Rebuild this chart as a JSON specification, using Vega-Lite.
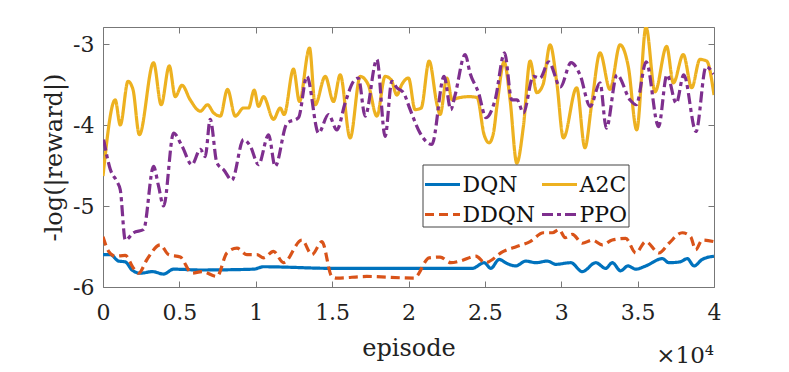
{
  "$schema": "https://vega.github.io/schema/vega-lite/v6.json",
  "width": 611,
  "height": 260,
  "autosize": {"type": "none"},
  "padding": {"left": 103, "top": 27, "right": 75, "bottom": 85},
  "background": "white",
  "config": {
    "view": {"stroke": "#777", "strokeWidth": 1},
    "font": "DejaVu Serif",
    "axis": {"grid": false, "domain": false, "tickColor": "#777", "tickWidth": 1, "tickSize": -6,
             "labelFont": "DejaVu Serif", "labelFontSize": 22, "labelColor": "#222",
             "titleFont": "DejaVu Serif", "titleFontSize": 24, "titleFontWeight": "normal", "titleColor": "#222"}
  },
  "title": {"text": "×10⁴", "orient": "bottom", "anchor": "end", "frame": "group", "font": "DejaVu Serif", "fontSize": 23, "fontWeight": "normal", "color": "#222", "offset": -15},
  "data": {"values": [
    {"a":"A2C","x":0,"y":-4.63},{"a":"A2C","x":0.080,"y":-3.69},{"a":"A2C","x":0.113,"y":-4.00},{"a":"A2C","x":0.164,"y":-3.46},{"a":"A2C","x":0.196,"y":-3.56},{"a":"A2C","x":0.238,"y":-4.12},{"a":"A2C","x":0.331,"y":-3.23},{"a":"A2C","x":0.381,"y":-3.75},{"a":"A2C","x":0.434,"y":-3.27},{"a":"A2C","x":0.473,"y":-3.65},{"a":"A2C","x":0.517,"y":-3.51},{"a":"A2C","x":0.571,"y":-3.69},{"a":"A2C","x":0.637,"y":-3.83},{"a":"A2C","x":0.684,"y":-3.75},{"a":"A2C","x":0.724,"y":-3.85},{"a":"A2C","x":0.768,"y":-3.89},{"a":"A2C","x":0.815,"y":-3.56},{"a":"A2C","x":0.866,"y":-3.89},{"a":"A2C","x":0.920,"y":-3.79},{"a":"A2C","x":0.953,"y":-3.79},{"a":"A2C","x":0.990,"y":-3.57},{"a":"A2C","x":1.018,"y":-3.77},{"a":"A2C","x":1.051,"y":-3.65},{"a":"A2C","x":1.116,"y":-3.93},{"a":"A2C","x":1.160,"y":-3.79},{"a":"A2C","x":1.186,"y":-3.87},{"a":"A2C","x":1.247,"y":-3.31},{"a":"A2C","x":1.286,"y":-3.71},{"a":"A2C","x":1.352,"y":-3.05},{"a":"A2C","x":1.389,"y":-3.75},{"a":"A2C","x":1.455,"y":-3.40},{"a":"A2C","x":1.509,"y":-3.71},{"a":"A2C","x":1.553,"y":-3.38},{"a":"A2C","x":1.618,"y":-4.16},{"a":"A2C","x":1.684,"y":-3.40},{"a":"A2C","x":1.736,"y":-3.50},{"a":"A2C","x":1.793,"y":-3.89},{"a":"A2C","x":1.847,"y":-3.40},{"a":"A2C","x":1.886,"y":-3.44},{"a":"A2C","x":1.924,"y":-3.63},{"a":"A2C","x":1.956,"y":-3.50},{"a":"A2C","x":2.000,"y":-3.42},{"a":"A2C","x":2.043,"y":-3.81},{"a":"A2C","x":2.083,"y":-3.79},{"a":"A2C","x":2.135,"y":-3.21},{"a":"A2C","x":2.187,"y":-3.75},{"a":"A2C","x":2.207,"y":-3.87},{"a":"A2C","x":2.251,"y":-3.42},{"a":"A2C","x":2.286,"y":-3.69},{"a":"A2C","x":2.316,"y":-3.67},{"a":"A2C","x":2.397,"y":-3.65},{"a":"A2C","x":2.449,"y":-3.66},{"a":"A2C","x":2.495,"y":-4.12},{"a":"A2C","x":2.528,"y":-4.22},{"a":"A2C","x":2.556,"y":-4.10},{"a":"A2C","x":2.580,"y":-3.75},{"a":"A2C","x":2.626,"y":-3.22},{"a":"A2C","x":2.665,"y":-3.69},{"a":"A2C","x":2.709,"y":-4.47},{"a":"A2C","x":2.752,"y":-4.02},{"a":"A2C","x":2.796,"y":-3.21},{"a":"A2C","x":2.840,"y":-3.60},{"a":"A2C","x":2.881,"y":-3.50},{"a":"A2C","x":2.927,"y":-3.01},{"a":"A2C","x":2.971,"y":-3.48},{"a":"A2C","x":3.014,"y":-4.16},{"a":"A2C","x":3.101,"y":-3.54},{"a":"A2C","x":3.155,"y":-4.28},{"a":"A2C","x":3.200,"y":-3.73},{"a":"A2C","x":3.254,"y":-3.11},{"a":"A2C","x":3.319,"y":-3.56},{"a":"A2C","x":3.385,"y":-3.01},{"a":"A2C","x":3.439,"y":-3.28},{"a":"A2C","x":3.494,"y":-4.06},{"a":"A2C","x":3.555,"y":-2.79},{"a":"A2C","x":3.614,"y":-3.59},{"a":"A2C","x":3.690,"y":-3.03},{"a":"A2C","x":3.734,"y":-3.48},{"a":"A2C","x":3.799,"y":-3.13},{"a":"A2C","x":3.854,"y":-3.54},{"a":"A2C","x":3.908,"y":-3.19},{"a":"A2C","x":3.952,"y":-3.21},{"a":"A2C","x":4.0,"y":-3.63},

    {"a":"PPO","x":0.004,"y":-4.18},{"a":"PPO","x":0.048,"y":-4.55},{"a":"PPO","x":0.092,"y":-4.70},{"a":"PPO","x":0.113,"y":-4.80},{"a":"PPO","x":0.146,"y":-5.42},{"a":"PPO","x":0.200,"y":-5.33},{"a":"PPO","x":0.266,"y":-5.29},{"a":"PPO","x":0.331,"y":-4.51},{"a":"PPO","x":0.362,"y":-4.74},{"a":"PPO","x":0.397,"y":-5.00},{"a":"PPO","x":0.462,"y":-4.10},{"a":"PPO","x":0.517,"y":-4.26},{"a":"PPO","x":0.582,"y":-4.49},{"a":"PPO","x":0.637,"y":-4.30},{"a":"PPO","x":0.669,"y":-4.39},{"a":"PPO","x":0.702,"y":-3.93},{"a":"PPO","x":0.746,"y":-4.47},{"a":"PPO","x":0.789,"y":-4.55},{"a":"PPO","x":0.844,"y":-4.68},{"a":"PPO","x":0.920,"y":-4.18},{"a":"PPO","x":0.964,"y":-4.26},{"a":"PPO","x":1.018,"y":-4.49},{"a":"PPO","x":1.084,"y":-4.12},{"a":"PPO","x":1.127,"y":-4.51},{"a":"PPO","x":1.204,"y":-3.98},{"a":"PPO","x":1.280,"y":-3.91},{"a":"PPO","x":1.335,"y":-3.40},{"a":"PPO","x":1.411,"y":-4.10},{"a":"PPO","x":1.476,"y":-3.87},{"a":"PPO","x":1.531,"y":-4.06},{"a":"PPO","x":1.585,"y":-3.73},{"a":"PPO","x":1.640,"y":-3.46},{"a":"PPO","x":1.672,"y":-3.42},{"a":"PPO","x":1.716,"y":-3.89},{"a":"PPO","x":1.793,"y":-3.19},{"a":"PPO","x":1.847,"y":-4.14},{"a":"PPO","x":1.891,"y":-3.46},{"a":"PPO","x":1.924,"y":-3.54},{"a":"PPO","x":1.967,"y":-3.60},{"a":"PPO","x":2.011,"y":-3.81},{"a":"PPO","x":2.076,"y":-4.10},{"a":"PPO","x":2.153,"y":-4.24},{"a":"PPO","x":2.233,"y":-3.40},{"a":"PPO","x":2.277,"y":-3.81},{"a":"PPO","x":2.305,"y":-3.63},{"a":"PPO","x":2.371,"y":-3.13},{"a":"PPO","x":2.403,"y":-3.36},{"a":"PPO","x":2.458,"y":-3.60},{"a":"PPO","x":2.508,"y":-3.91},{"a":"PPO","x":2.567,"y":-3.69},{"a":"PPO","x":2.629,"y":-3.11},{"a":"PPO","x":2.676,"y":-3.69},{"a":"PPO","x":2.711,"y":-3.69},{"a":"PPO","x":2.752,"y":-3.85},{"a":"PPO","x":2.817,"y":-3.40},{"a":"PPO","x":2.861,"y":-3.42},{"a":"PPO","x":2.918,"y":-3.22},{"a":"PPO","x":2.994,"y":-3.53},{"a":"PPO","x":3.064,"y":-3.23},{"a":"PPO","x":3.123,"y":-3.38},{"a":"PPO","x":3.189,"y":-3.77},{"a":"PPO","x":3.254,"y":-3.48},{"a":"PPO","x":3.295,"y":-4.04},{"a":"PPO","x":3.365,"y":-3.38},{"a":"PPO","x":3.450,"y":-3.69},{"a":"PPO","x":3.491,"y":-3.75},{"a":"PPO","x":3.556,"y":-3.22},{"a":"PPO","x":3.637,"y":-4.02},{"a":"PPO","x":3.692,"y":-3.38},{"a":"PPO","x":3.753,"y":-3.73},{"a":"PPO","x":3.802,"y":-3.38},{"a":"PPO","x":3.882,"y":-4.08},{"a":"PPO","x":3.948,"y":-3.28},{"a":"PPO","x":3.998,"y":-3.37},

    {"a":"DQN","x":0,"y":-5.60},{"a":"DQN","x":0.048,"y":-5.60},{"a":"DQN","x":0.102,"y":-5.68},{"a":"DQN","x":0.146,"y":-5.69},{"a":"DQN","x":0.190,"y":-5.79},{"a":"DQN","x":0.244,"y":-5.83},{"a":"DQN","x":0.323,"y":-5.81},{"a":"DQN","x":0.397,"y":-5.84},{"a":"DQN","x":0.462,"y":-5.78},{"a":"DQN","x":0.637,"y":-5.79},{"a":"DQN","x":0.985,"y":-5.78},{"a":"DQN","x":1.051,"y":-5.75},{"a":"DQN","x":1.509,"y":-5.77},{"a":"DQN","x":1.945,"y":-5.77},{"a":"DQN","x":2.418,"y":-5.77},{"a":"DQN","x":2.495,"y":-5.70},{"a":"DQN","x":2.539,"y":-5.77},{"a":"DQN","x":2.593,"y":-5.66},{"a":"DQN","x":2.645,"y":-5.71},{"a":"DQN","x":2.702,"y":-5.74},{"a":"DQN","x":2.768,"y":-5.68},{"a":"DQN","x":2.833,"y":-5.70},{"a":"DQN","x":2.909,"y":-5.68},{"a":"DQN","x":2.964,"y":-5.72},{"a":"DQN","x":3.062,"y":-5.70},{"a":"DQN","x":3.138,"y":-5.81},{"a":"DQN","x":3.226,"y":-5.70},{"a":"DQN","x":3.291,"y":-5.77},{"a":"DQN","x":3.334,"y":-5.70},{"a":"DQN","x":3.389,"y":-5.80},{"a":"DQN","x":3.437,"y":-5.74},{"a":"DQN","x":3.488,"y":-5.78},{"a":"DQN","x":3.553,"y":-5.74},{"a":"DQN","x":3.662,"y":-5.65},{"a":"DQN","x":3.705,"y":-5.70},{"a":"DQN","x":3.777,"y":-5.69},{"a":"DQN","x":3.825,"y":-5.65},{"a":"DQN","x":3.869,"y":-5.74},{"a":"DQN","x":3.923,"y":-5.66},{"a":"DQN","x":4.0,"y":-5.62},

    {"a":"DDQN","x":0,"y":-5.38},{"a":"DDQN","x":0.037,"y":-5.56},{"a":"DDQN","x":0.080,"y":-5.62},{"a":"DDQN","x":0.146,"y":-5.61},{"a":"DDQN","x":0.200,"y":-5.77},{"a":"DDQN","x":0.233,"y":-5.83},{"a":"DDQN","x":0.288,"y":-5.66},{"a":"DDQN","x":0.375,"y":-5.48},{"a":"DDQN","x":0.429,"y":-5.60},{"a":"DDQN","x":0.506,"y":-5.63},{"a":"DDQN","x":0.582,"y":-5.83},{"a":"DDQN","x":0.648,"y":-5.81},{"a":"DDQN","x":0.746,"y":-5.87},{"a":"DDQN","x":0.811,"y":-5.58},{"a":"DDQN","x":0.877,"y":-5.52},{"a":"DDQN","x":0.942,"y":-5.60},{"a":"DDQN","x":1.008,"y":-5.60},{"a":"DDQN","x":1.051,"y":-5.64},{"a":"DDQN","x":1.116,"y":-5.56},{"a":"DDQN","x":1.182,"y":-5.70},{"a":"DDQN","x":1.302,"y":-5.42},{"a":"DDQN","x":1.368,"y":-5.60},{"a":"DDQN","x":1.433,"y":-5.44},{"a":"DDQN","x":1.498,"y":-5.87},{"a":"DDQN","x":1.531,"y":-5.89},{"a":"DDQN","x":1.727,"y":-5.87},{"a":"DDQN","x":2.037,"y":-5.89},{"a":"DDQN","x":2.135,"y":-5.64},{"a":"DDQN","x":2.207,"y":-5.63},{"a":"DDQN","x":2.277,"y":-5.70},{"a":"DDQN","x":2.338,"y":-5.68},{"a":"DDQN","x":2.441,"y":-5.62},{"a":"DDQN","x":2.501,"y":-5.70},{"a":"DDQN","x":2.621,"y":-5.56},{"a":"DDQN","x":2.709,"y":-5.50},{"a":"DDQN","x":2.796,"y":-5.44},{"a":"DDQN","x":2.883,"y":-5.33},{"a":"DDQN","x":2.942,"y":-5.33},{"a":"DDQN","x":2.986,"y":-5.29},{"a":"DDQN","x":3.025,"y":-5.39},{"a":"DDQN","x":3.073,"y":-5.35},{"a":"DDQN","x":3.138,"y":-5.46},{"a":"DDQN","x":3.204,"y":-5.42},{"a":"DDQN","x":3.269,"y":-5.48},{"a":"DDQN","x":3.334,"y":-5.42},{"a":"DDQN","x":3.422,"y":-5.40},{"a":"DDQN","x":3.488,"y":-5.58},{"a":"DDQN","x":3.553,"y":-5.44},{"a":"DDQN","x":3.640,"y":-5.58},{"a":"DDQN","x":3.705,"y":-5.46},{"a":"DDQN","x":3.792,"y":-5.33},{"a":"DDQN","x":3.847,"y":-5.38},{"a":"DDQN","x":3.880,"y":-5.54},{"a":"DDQN","x":3.923,"y":-5.42},{"a":"DDQN","x":4.0,"y":-5.44}
  ]},
  "layer": [
    {
      "mark": {"type": "line", "strokeWidth": 3.2, "interpolate": "monotone", "clip": true},
      "encoding": {
        "x": {"field": "x", "type": "quantitative",
              "scale": {"domain": [0, 4], "nice": false, "zero": false},
              "axis": {"title": "episode", "values": [0, 0.5, 1, 1.5, 2, 2.5, 3, 3.5, 4], "labelExpr": "toString(datum.value)", "labelPadding": 21, "titlePadding": 13, "labelFlush": false}},
        "y": {"field": "y", "type": "quantitative",
              "scale": {"domain": [-6, -2.79], "nice": false, "zero": false},
              "axis": {"title": "-log(|reward|)", "values": [-6, -5, -4, -3], "labelExpr": "toString(datum.value)", "labelPadding": 15, "titlePadding": 6}},
        "color": {"field": "a", "type": "nominal",
                  "scale": {"domain": ["DQN", "DDQN", "A2C", "PPO"], "range": ["#0072BD", "#D95319", "#EDB120", "#7E2F8E"]},
                  "legend": {"title": null, "orient": "none", "legendX": 319.5, "legendY": 137.5, "columns": 2, "columnPadding": 0, "rowPadding": -5,
                             "fillColor": "white", "strokeColor": "#444", "padding": 1,
                             "symbolType": "stroke", "symbolSize": 1225, "symbolStrokeWidth": 3, "symbolOffset": 0,
                             "labelFont": "DejaVu Serif", "labelFontSize": 22, "labelColor": "#111", "labelOffset": 1, "labelLimit": 200}},
        "strokeDash": {"field": "a", "type": "nominal",
                       "scale": {"domain": ["DQN", "DDQN", "A2C", "PPO"], "range": [[1, 0], [9, 5], [1, 0], [11, 4, 4, 4]]}},
        "order": {"field": "x", "type": "quantitative"}
      }
    },
    {
      "mark": {"type": "point", "opacity": 0},
      "encoding": {
        "x": {"field": "x", "type": "quantitative", "axis": {"orient": "top", "labels": false, "title": null, "values": [0, 0.5, 1, 1.5, 2, 2.5, 3, 3.5, 4]}},
        "y": {"field": "y", "type": "quantitative", "axis": {"orient": "right", "labels": false, "title": null, "values": [-6, -5, -4, -3]}}
      }
    }
  ],
  "resolve": {"axis": {"x": "independent", "y": "independent"}}
}
